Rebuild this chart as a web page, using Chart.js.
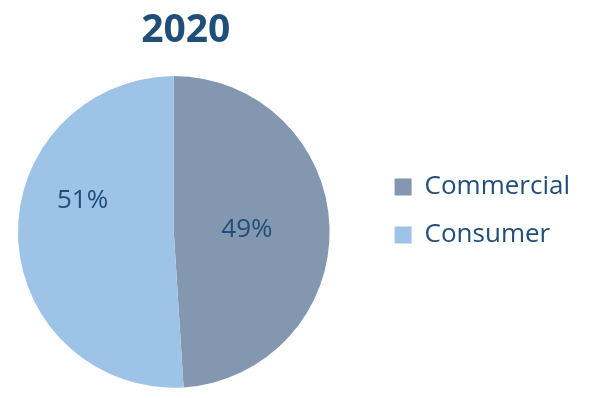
<!DOCTYPE html>
<html>
<head>
<meta charset="utf-8">
<script src="https://cdn.jsdelivr.net/npm/chart.js@4"></script>
<style>
  html, body { margin: 0; padding: 0; background: #fff; }
  #wrap { width: 589px; height: 398px; }
</style>
</head>
<body>
<div id="wrap"><canvas id="myChart" width="589" height="398"></canvas></div>
<script>
// segments
const categories = ['Commercial', 'Consumer'];
const shares = [49, 51];
const chartTitle = '2020';

const sliceColors = ['#8497B0', '#9DC3E6'];
const textColor = '#1F4E79';
// where each % label sits: fraction of radius, extra turn in degrees
const labelRadius = [0.47, 0.62];
const labelTurn = [0, 21];

const pctLabels = {
  id: 'pctLabels',
  afterDatasetsDraw(chart) {
    const ctx = chart.ctx;
    const arcs = chart.getDatasetMeta(0).data;
    ctx.save();
    ctx.font = '26px "Open Sans"';
    ctx.fillStyle = textColor;
    ctx.textAlign = 'center';
    ctx.textBaseline = 'middle';
    arcs.forEach(function(arc, i) {
      const p = arc.getProps(['x', 'y', 'startAngle', 'endAngle', 'outerRadius'], true);
      const a = (p.startAngle + p.endAngle) / 2 + labelTurn[i] * Math.PI / 180;
      const r = p.outerRadius * labelRadius[i];
      ctx.fillText(shares[i] + '%', p.x + Math.cos(a) * r, p.y + Math.sin(a) * r);
    });
    ctx.restore();
  }
};

// push the legend further right and nudge the title, pie stays put
const nudgeBoxes = {
  id: 'nudgeBoxes',
  afterLayout(chart) {
    chart.legend.left += 43;
    chart.legend.right += 43;
    chart.titleBlock.left += 12;
    chart.titleBlock.right += 12;
  }
};

let myChart = document.getElementById('myChart').getContext('2d');

let chart = new Chart(myChart, {
  type: 'pie',
  data: {
    labels: categories,
    datasets: [{
      data: shares,
      backgroundColor: sliceColors,
      borderWidth: 0
    }]
  },
  options: {
    responsive: false,
    animation: false,
    layout: {
      padding: { top: 34, bottom: 10, left: 18, right: 52 }
    },
    plugins: {
      title: {
        display: true,
        text: chartTitle,
        fullSize: false,
        color: textColor,
        font: { family: 'Open Sans', size: 39, weight: 'bold' },
        padding: { top: -27, bottom: 22 }
      },
      legend: {
        position: 'right',
        labels: {
          boxWidth: 17,
          boxHeight: 17,
          padding: 22,
          color: textColor,
          font: { family: 'Open Sans', size: 26 }
        }
      },
      tooltip: { enabled: false }
    }
  },
  plugins: [pctLabels, nudgeBoxes]
});
</script>
</body>
</html>
